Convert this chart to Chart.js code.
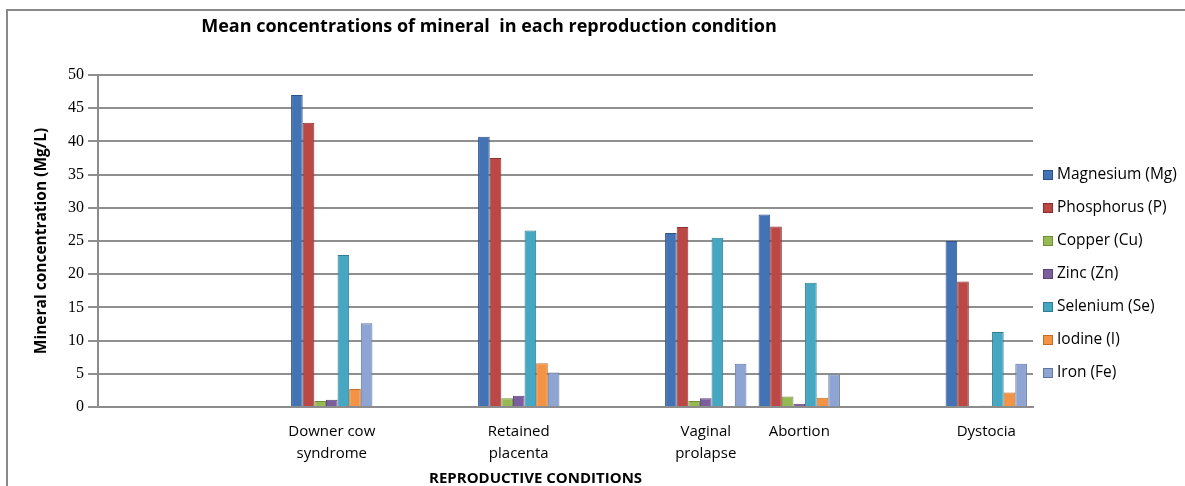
<!DOCTYPE html>
<html>
<head>
<meta charset="utf-8">
<script src="https://cdn.jsdelivr.net/npm/chart.js@4.4.1/dist/chart.umd.min.js"></script>
<style>
  html, body { margin: 0; padding: 0; background: #fff; }
  #wrap { width: 1185px; height: 486px; position: relative; }
</style>
</head>
<body>
<div id="wrap"><canvas id="mineralChart" width="1185" height="486"></canvas></div>
<script>
// categories (empty slots keep the uneven spacing of the original chart)
const conditions = [
    '', '', ['Downer cow', 'syndrome'], '', ['Retained', 'placenta'],
    '', ['Vaginal', 'prolapse'], 'Abortion', '', 'Dystocia'
];

const magnesium  = [null, null, 47.0, null, 40.7, null, 26.2, 29.0, null, 25.0];
const phosphorus = [null, null, 42.8, null, 37.5, null, 27.1, 27.2, null, 18.9];
const copper     = [null, null, 0.9,  null, 1.3,  null, 0.9,  1.6,  null, 0.1];
const zinc       = [null, null, 1.1,  null, 1.7,  null, 1.3,  0.5,  null, 0.2];
const selenium   = [null, null, 22.9, null, 26.6, null, 25.5, 18.7, null, 11.3];
const iodine     = [null, null, 2.7,  null, 6.6,  null, 0.1,  1.4,  null, 2.2];
const iron       = [null, null, 12.6, null, 5.2,  null, 6.5,  4.9,  null, 6.5];

const seriesNames = ['Magnesium (Mg)', 'Phosphorus (P)', 'Copper (Cu)', 'Zinc (Zn)',
                     'Selenium (Se)', 'Iodine (I)', 'Iron (Fe)'];
const yTicks = [0, 5, 10, 15, 20, 25, 30, 35, 40, 45, 50];

const fills   = ['#4373B5', '#BC4845', '#96B953', '#7C5E9F', '#45A7C2', '#F39343', '#8EA5D3'];
const borders = ['#2E5286', '#8C2F2D', '#6F8C3A', '#5A4375', '#2F7D92', '#C06E2A', '#62769E'];

const sansFont = "'Open Sans', 'DejaVu Sans', sans-serif";
const serifFont = "'Liberation Serif', 'DejaVu Serif', serif";

const allValues = [magnesium, phosphorus, copper, zinc, selenium, iodine, iron];

const datasets = seriesNames.map(function (name, i) {
    return {
        label: name,
        data: allValues[i],
        backgroundColor: fills[i],
        borderColor: borders[i],
        borderWidth: 1,
        categoryPercentage: 0.87,
        barPercentage: 1.0
    };
});

// frame, title, x axis title and legend drawn by hand
const decorPlugin = {
    id: 'decor',
    beforeDraw(chart) {
        const ctx = chart.ctx;
        ctx.save();
        ctx.strokeStyle = '#8a8a8a';
        ctx.lineWidth = 2;
        ctx.beginPath();
        ctx.moveTo(7, chart.height);
        ctx.lineTo(7, 10);
        ctx.lineTo(chart.width, 10);
        ctx.stroke();
        ctx.restore();
    },
    afterDraw(chart) {
        const ctx = chart.ctx;
        const area = chart.chartArea;
        ctx.save();
        ctx.fillStyle = '#000';
        ctx.textAlign = 'center';
        ctx.textBaseline = 'middle';
        ctx.font = 'bold 18px ' + sansFont;
        ctx.fillText('Mean concentrations of mineral  in each reproduction condition', 489, 27);
        ctx.font = 'bold 15px ' + sansFont;
        ctx.fillText('REPRODUCTIVE CONDITIONS', area.left + (area.right - area.left) * 0.468, 479);

        // legend
        ctx.textAlign = 'left';
        ctx.font = '15.5px ' + sansFont;
        chart.data.datasets.forEach(function (ds, i) {
            const y = 175 + i * 33;
            ctx.fillStyle = ds.backgroundColor;
            ctx.strokeStyle = ds.borderColor;
            ctx.lineWidth = 1;
            ctx.fillRect(area.right + 10.5, y - 4.5, 9, 9);
            ctx.strokeRect(area.right + 10.5, y - 4.5, 9, 9);
            ctx.fillStyle = '#000';
            ctx.fillText(ds.label, area.right + 24, y);
        });
        ctx.restore();
    }
};

new Chart(document.getElementById('mineralChart'), {
    type: 'bar',
    data: { labels: conditions, datasets: datasets },
    options: {
        responsive: false,
        animation: false,
        layout: { padding: { left: 32, top: 75, right: 152, bottom: 0 } },
        plugins: {
            legend: { display: false },
            title: { display: false },
            tooltip: { enabled: false }
        },
        scales: {
            x: {
                grid: { display: false, drawTicks: false },
                border: { color: '#8c8c8c', width: 2 },
                ticks: {
                    color: '#000',
                    font: { family: sansFont, size: 15, lineHeight: 1.45 },
                    maxRotation: 0,
                    autoSkip: false,
                    padding: 14
                },
                afterFit(scale) { scale.height = 79; }
            },
            y: {
                min: 0,
                max: 50,
                afterBuildTicks(scale) {
                    scale.ticks = yTicks.map(function (v) { return { value: v }; });
                },
                grid: { color: '#8f8f8f', lineWidth: 2, tickLength: 10 },
                border: { color: '#8c8c8c', width: 2 },
                ticks: {
                    color: '#000',
                    font: { family: serifFont, size: 16 },
                    padding: 4
                },
                title: {
                    display: true,
                    text: 'Mineral concentration (Mg/L)',
                    color: '#000',
                    font: { family: sansFont, size: 15.5, weight: 'bold' },
                    padding: { top: 0, bottom: 8 }
                },
                afterFit(scale) { scale.width = 66; }
            }
        }
    },
    plugins: [decorPlugin]
});
</script>
</body>
</html>
